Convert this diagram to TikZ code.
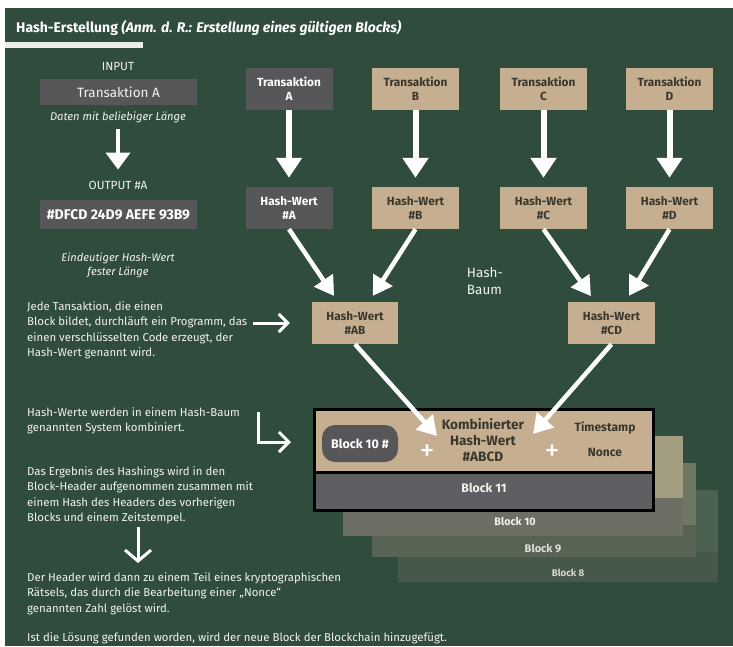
\documentclass[tikz,border=0pt]{standalone}
\usepackage{fontspec}
\setmainfont{Fira Sans}
\usetikzlibrary{arrows.meta,calc}
\definecolor{bg}{HTML}{2F4C3C}
\definecolor{tan}{HTML}{C6AF91}
\definecolor{boxgray}{HTML}{575659}
\definecolor{blkgray}{HTML}{5F5E63}
\definecolor{txtdark}{HTML}{3A382C}
\definecolor{txtwhite}{HTML}{F2F2EE}
\definecolor{barcol}{HTML}{ECEDE6}
\definecolor{bten}{HTML}{A39D82}
\definecolor{btenb}{HTML}{6D6F65}
\definecolor{bnine}{HTML}{6F7661}
\definecolor{bnineb}{HTML}{586353}
\definecolor{beight}{HTML}{4C6150}
\definecolor{beightb}{HTML}{455849}
\tikzset{
  tbox/.style={fill=tan, minimum width=87pt, minimum height=42pt, inner sep=0pt, align=center,
    font=\fontsize{11.8}{14}\selectfont\bfseries, text=txtdark},
  gbox/.style={tbox, fill=boxgray, text=white},
  vertarrow/.style={draw=white, line width=6pt, -{Triangle[width=25pt,length=20pt]}},
  diagarrow/.style={draw=white, line width=4.5pt, -{Triangle[width=22pt,length=19pt]}},
  smallarrow/.style={draw=white, line width=4pt, -{Triangle[width=24pt,length=17pt]}},
  barb/.style={draw=white, line width=3pt, -{Straight Barb[length=9pt,width=18pt]}},
  bodytext/.style={font=\fontsize{11.4}{15.3}\selectfont, text=txtwhite, align=left, inner sep=0pt, anchor=north west},
  wlabel/.style={font=\fontsize{11.8}{13}\selectfont, text=txtwhite, inner sep=0pt},
  darklabel/.style={font=\fontsize{12}{13}\selectfont\bfseries, text=txtdark, inner sep=0pt},
}
\begin{document}
\begin{tikzpicture}[x=1pt,y=-1pt]
\useasboundingbox (0,0) rectangle (733,646);
\fill[white] (0,0) rectangle (733,646);
\fill[bg] (5,8) rectangle (733,646);
% title
\node[anchor=west, inner sep=0pt, text=white, font=\fontsize{14}{16}\selectfont\bfseries] (title) at (16,28)
  {Hash-Erstellung \itshape(Anm. d. R.: Erstellung eines gültigen Blocks)};
\fill[barcol] (5,41.5) rectangle (143,47.5);

% left column
\node[wlabel] (inlbl) at (118,67) {INPUT};
\node[fill=boxgray, minimum width=157pt, minimum height=26pt, inner sep=0pt, text=txtwhite,
  font=\fontsize{13.5}{15}\selectfont] (inbox) at (118.5,92) {Transaktion A};
\node[wlabel, font=\fontsize{11.2}{13}\selectfont\itshape] (indesc) at (118,117) {Daten mit beliebiger Länge};
\node[wlabel] (outlbl) at (118,185) {OUTPUT \#A};
\draw[smallarrow, shorten <=6pt, shorten >=11pt] (indesc.south) -- (outlbl.north);
\node[fill=boxgray, minimum width=157pt, minimum height=29pt, inner sep=0pt, text=white,
  font=\fontsize{14}{15}\selectfont\bfseries] (outbox) at (118.5,214.5) {\#DFCD 24D9 AEFE 93B9};
\node[wlabel, font=\fontsize{11.1}{14}\selectfont\itshape, align=center] (outdesc) at (118,265)
  {Eindeutiger Hash-Wert\\fester Länge};

\node[bodytext] (p1) at (27,301.5) {Jede Tansaktion, die einen\\Block bildet, durchläuft ein Programm, das\\einen verschlüsselten Code erzeugt, der\\Hash-Wert genannt wird.};
\node[bodytext] (p2) at (27,407.5) {Hash-Werte werden in einem Hash-Baum\\genannten System kombiniert.};
\node[bodytext] (p3) at (27,466.5) {Das Ergebnis des Hashings wird in den\\Block-Header aufgenommen zusammen mit\\einem Hash des Headers des vorherigen\\Blocks und einem Zeitstempel.};
\node[bodytext] (p4) at (27,572.5) {Der Header wird dann zu einem Teil eines kryptographischen\\Rätsels, das durch die Bearbeitung einer „Nonce“\\genannten Zahl gelöst wird.};
\node[bodytext] (p5) at (27,632) {Ist die Lösung gefunden worden, wird der neue Block der Blockchain hinzugefügt.};

% back blocks
\fill[beight] (398,490) rectangle (718,552);
\fill[beightb] (398,552) rectangle (718,582);
\fill[bnine] (372,463) rectangle (696,525);
\fill[bnineb] (372,525) rectangle (696,557);
\fill[bten] (343,436) rectangle (683,498);
\fill[btenb] (343,498) rectangle (683,536);
\node[inner sep=0pt, text=txtwhite, font=\fontsize{10.8}{12}\selectfont\bfseries] (b10) at (515,521) {Block 10};
\node[inner sep=0pt, text=txtwhite!92!black, font=\fontsize{11}{12}\selectfont\bfseries] (b9) at (543,548) {Block 9};
\node[inner sep=0pt, text=txtwhite!88!black, font=\fontsize{9.7}{11}\selectfont\bfseries] (b8) at (568,573) {Block 8};

% main block
\node[fill=tan, minimum width=338pt, minimum height=62pt, inner sep=0pt] (hdr) at (484,441) {};
\node[fill=blkgray, minimum width=338pt, minimum height=38pt, inner sep=0pt] (bdy) at (484,491) {};
\draw[black, line width=3pt] (hdr.north west) rectangle (bdy.south east);
\draw[black, line width=3pt] (hdr.south west) -- (hdr.south east);
\node[fill=boxgray, rounded corners=13pt, minimum width=76pt, minimum height=37pt, inner sep=0pt,
  text=white, font=\fontsize{12.5}{13}\selectfont\bfseries] (pill) at (360,443.5) {Block 10 \#};
\node[darklabel, font=\fontsize{13.6}{16}\selectfont\bfseries, align=center] (komb) at (483,440)
  {Kombinierter\\Hash-Wert\\\#ABCD};
\node[darklabel] (ts) at (605,428) {Timestamp};
\node[darklabel] (nonce) at (605,452) {Nonce};
\node[inner sep=0pt, text=white, font=\fontsize{30}{30}\selectfont\addfontfeatures{}] (plus1) at (427,453) {+};
\node[inner sep=0pt, text=white, font=\fontsize{30}{30}\selectfont] (plus2) at (552,453) {+};
\node[inner sep=0pt, text=txtwhite, font=\fontsize{12.3}{13}\selectfont\bfseries] (b11) at (484,488) {Block 11};

% tree nodes
\node[gbox] (TA) at (289,89) {Transaktion\\A};
\node[tbox] (TB) at (415.5,89) {Transaktion\\B};
\node[tbox] (TC) at (543.5,89) {Transaktion\\C};
\node[tbox] (TD) at (669.5,89) {Transaktion\\D};
\node[gbox] (HA) at (289,208) {Hash-Wert\\\#A};
\node[tbox] (HB) at (415.5,208) {Hash-Wert\\\#B};
\node[tbox] (HC) at (543.5,208) {Hash-Wert\\\#C};
\node[tbox] (HD) at (669.5,208) {Hash-Wert\\\#D};
\node[tbox, minimum width=86pt] (HAB) at (355,323) {Hash-Wert\\\#AB};
\node[tbox] (HCD) at (611.5,323) {Hash-Wert\\\#CD};
\node[wlabel, font=\fontsize{13.5}{17}\selectfont, align=left] (baum) at (485,281) {Hash-\\Baum};

\foreach \t/\h in {TA/HA,TB/HB,TC/HC,TD/HD}
  \draw[vertarrow, shorten >=9pt] (\t.south) -- (\h.north);
\draw[diagarrow, shorten >=7pt] (HA.south) -- ($(HAB.north)+(-17,0)$);
\draw[diagarrow, shorten >=7pt] (HB.south) -- ($(HAB.north)+(14,0)$);
\draw[diagarrow, shorten >=7pt] (HC.south) -- ($(HCD.north)+(-16.5,0)$);
\draw[diagarrow, shorten >=7pt] (HD.south) -- ($(HCD.north)+(14,0)$);
\coordinate (tipAB) at (437,436);
\coordinate (tipCD) at (533,434);
\draw[diagarrow] (HAB.south) -- (tipAB);
\draw[diagarrow] (HCD.south) -- (tipCD);

% left explanatory arrows
\draw[barb, shorten >=22pt] ($(HAB.west)+(-59,0)$) -- (HAB.west);
\coordinate (lstart) at (258,412);
\coordinate (lend) at (291,442);
\draw[barb, -{Straight Barb[length=10pt,width=20pt]}] (lstart) |- (lend);
\coordinate (dstart) at (138,527);
\coordinate (dend) at (138,563);
\draw[barb, -{Straight Barb[length=11pt,width=26pt]}] (dstart) -- (dend);
\end{tikzpicture}
\end{document}
